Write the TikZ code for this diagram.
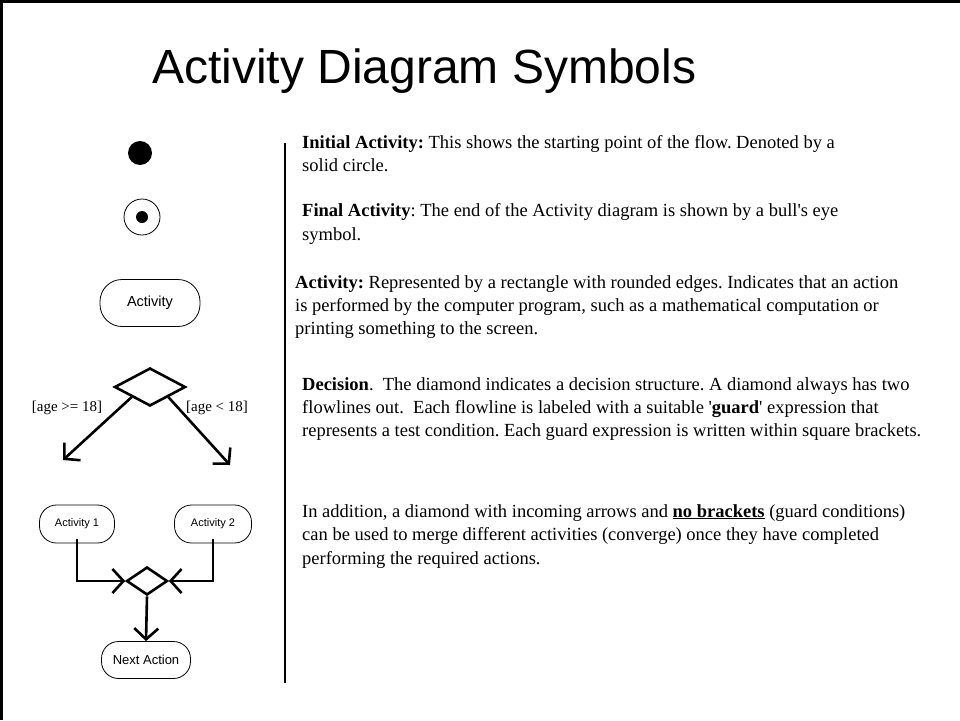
\documentclass[tikz,border=0pt]{standalone}
\usepackage{fontspec}
\setmainfont{Liberation Serif}
\newfontfamily\arialf{Liberation Sans}
\usetikzlibrary{shapes.geometric,arrows.meta}
\tikzset{
  txt/.style={anchor=base west,inner sep=0pt,font=\fontsize{18.5}{22}\selectfont\frenchspacing},
  actbox/.style={draw,line width=0.8pt,rounded corners=20pt,inner sep=0pt,font=\arialf},
  decbox/.style={draw,diamond,line width=2.6pt,inner sep=0pt},
  flow/.style={line width=2.6pt,-{Straight Barb[length=11pt,width=24pt]}},
  guard/.style={inner sep=0pt,font=\fontsize{15}{18}\selectfont},
}
\begin{document}
\begin{tikzpicture}[x=1pt,y=-1pt]
\useasboundingbox (0,0) rectangle (960,720);
% frame
\draw[line width=2.5pt] (0,1.25) -- (960,1.25);
\draw[line width=2.5pt] (1.25,0) -- (1.25,720);
% title
\node[anchor=base west,inner sep=0pt,font=\arialf\fontsize{48}{56}\selectfont] (title) at (152,83) {Activity Diagram Symbols};
% separator
\coordinate (sepT) at (285,143);
\coordinate (sepB) at (285,683);
\draw[line width=1.2pt] (sepT) -- (sepB);
% symbols
\node[circle,fill,minimum size=24pt,inner sep=0pt] (init) at (140,153) {};
\node[circle,draw,line width=0.8pt,minimum size=36pt,inner sep=0pt] (fin) at (142,217) {};
\node[circle,fill,minimum size=12pt,inner sep=0pt] (findot) at (fin.center) {};
\node[actbox,minimum width=100pt,minimum height=47pt,rounded corners=22pt,font=\arialf\fontsize{14.5}{17}\selectfont] (act) at (150,303) {Activity};
% decision
\node[decbox,minimum width=71pt,minimum height=38pt] (dec) at (150,387) {};
\coordinate (decL) at (63,460);
\coordinate (decR) at (230,465);
\draw[flow] (dec.south west) -- (decL);
\draw[flow] (dec.south east) -- (decR);
\node[guard] (g1) at (67,408) {[age >= 18]};
\node[guard] (g2) at (217,408) {[age < 18]};
% merge
\node[actbox,rounded corners=17pt,minimum width=75pt,minimum height=38pt,font=\arialf\fontsize{11}{13}\selectfont] (a1) at (77,524) {Activity 1};
\node[actbox,rounded corners=17pt,minimum width=77pt,minimum height=38pt,font=\arialf\fontsize{11}{13}\selectfont] (a2) at (213,524) {Activity 2};
\node[decbox,minimum width=41pt,minimum height=28pt] (mrg) at (147,581) {};
\node[actbox,rounded corners=17pt,minimum width=89pt,minimum height=37pt,font=\arialf\fontsize{13}{15}\selectfont] (na) at (146,660) {Next Action};
\draw[flow] ([yshift=4pt]a1.south) |- (mrg.west);
\draw[flow] ([yshift=4pt]a2.south) |- (mrg.east);
\draw[flow] (mrg.south) -- (na.north);
% texts
\node[txt] (t1a) at (302,148) {\textbf{Initial Activity:} This shows the starting point of the flow. Denoted by a};
\node[txt] (t1b) at (302,171) {solid circle.};
\node[txt] (t2a) at (302,216) {\textbf{Final Activity}: The end of the Activity diagram is shown by a bull\textquotesingle s eye};
\node[txt] (t2b) at (302,240) {symbol.};
\node[txt] (t3a) at (295,288) {\textbf{Activity:} Represented by a rectangle with rounded edges. Indicates that an action};
\node[txt] (t3b) at (295,311) {is performed by the computer program, such as a mathematical computation or};
\node[txt] (t3c) at (295,334) {printing something to the screen.};
\node[txt] (t4a) at (302,390) {\textbf{Decision}.~ The diamond indicates a decision structure. A diamond always has two};
\node[txt] (t4b) at (302,413) {flowlines out.~ Each flowline is labeled with a suitable \textquotesingle\textbf{guard}\textquotesingle{} expression that};
\node[txt] (t4c) at (302,436) {represents a test condition. Each guard expression is written within square brackets.};
\node[txt] (t5a) at (302,517) {In addition, a diamond with incoming arrows and \underline{\textbf{no brackets}} (guard conditions)};
\node[txt] (t5b) at (302,540) {can be used to merge different activities (converge) once they have completed};
\node[txt] (t5c) at (302,564) {performing the required actions.};
\end{tikzpicture}
\end{document}
